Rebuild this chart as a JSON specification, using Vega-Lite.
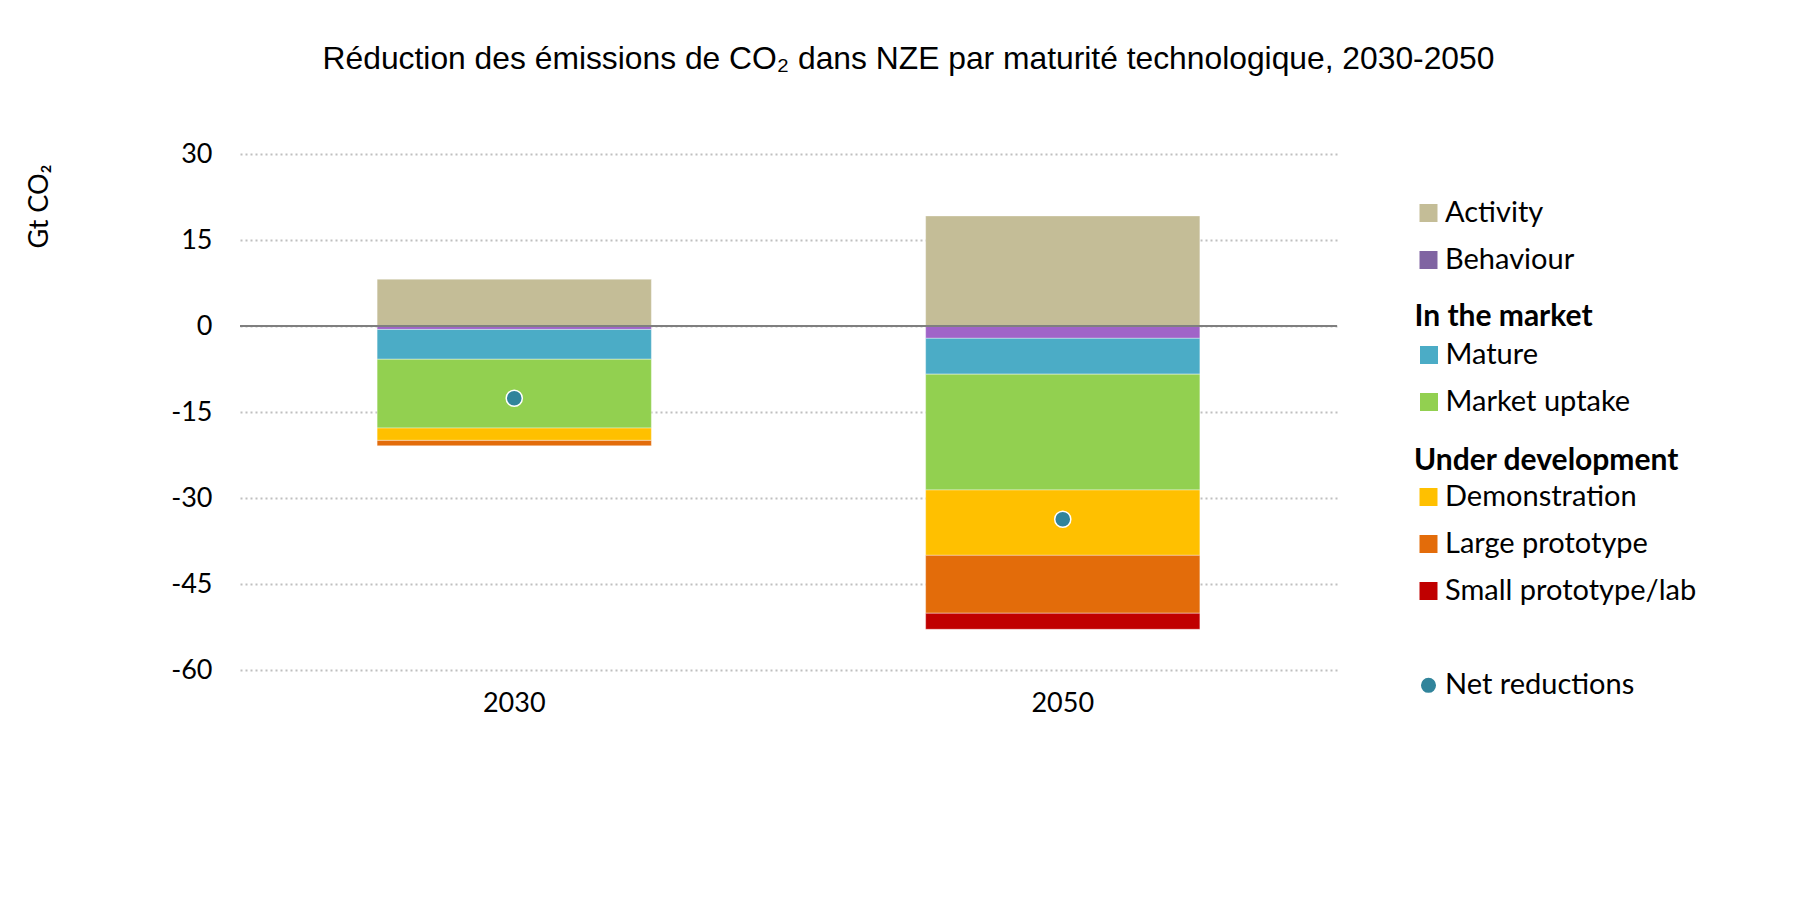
{
  "$schema": "https://vega.github.io/schema/vega-lite/v6.json",
  "width": 1097,
  "height": 516,
  "autosize": {"type": "none"},
  "padding": {"left": 240, "top": 154, "right": 479, "bottom": 230},
  "background": "white",
  "title": {
    "text": "Réduction des émissions de CO₂ dans NZE par maturité technologique, 2030-2050",
    "font": "Liberation Sans",
    "fontSize": 31.8,
    "fontWeight": "normal",
    "color": "#000000",
    "anchor": "middle",
    "dx": 120,
    "offset": 64
  },
  "datasets": {
    "bars": [
      {"year": "2030", "category": "Activity", "group": "Other", "order": 1, "value": 8.2},
      {"year": "2030", "category": "Behaviour", "group": "Other", "order": 2, "value": -0.6},
      {"year": "2030", "category": "Mature", "group": "In the market", "order": 3, "value": -5.2},
      {"year": "2030", "category": "Market uptake", "group": "In the market", "order": 4, "value": -12.0},
      {"year": "2030", "category": "Demonstration", "group": "Under development", "order": 5, "value": -2.15},
      {"year": "2030", "category": "Large prototype", "group": "Under development", "order": 6, "value": -0.95},
      {"year": "2030", "category": "Small prototype/lab", "group": "Under development", "order": 7, "value": 0},
      {"year": "2050", "category": "Activity", "group": "Other", "order": 1, "value": 19.2},
      {"year": "2050", "category": "Behaviour", "group": "Other", "order": 2, "value": -2.15},
      {"year": "2050", "category": "Mature", "group": "In the market", "order": 3, "value": -6.25},
      {"year": "2050", "category": "Market uptake", "group": "In the market", "order": 4, "value": -20.2},
      {"year": "2050", "category": "Demonstration", "group": "Under development", "order": 5, "value": -11.4},
      {"year": "2050", "category": "Large prototype", "group": "Under development", "order": 6, "value": -10.1},
      {"year": "2050", "category": "Small prototype/lab", "group": "Under development", "order": 7, "value": -2.8}
    ],
    "net": [
      {"year": "2030", "series": "Net reductions", "value": -12.6},
      {"year": "2050", "series": "Net reductions", "value": -33.7}
    ],
    "zero": [{"value": 0}]
  },
  "layer": [
    {
      "data": {"name": "bars"},
      "transform": [
        {"stack": "value", "groupby": ["year"], "sort": [{"field": "order", "order": "ascending"}], "as": ["v0", "v1"]},
        {"filter": "datum.group === 'Other'"}
      ],
      "mark": {"type": "bar", "width": {"band": 0.5}, "stroke": "white", "strokeWidth": 0.75, "strokeOpacity": 0.5},
      "encoding": {
        "x": {"field": "year", "type": "nominal", "title": null, "scale": {"paddingInner": 0, "paddingOuter": 0}},
        "y": {"field": "v0", "type": "quantitative", "title": "Gt CO₂", "scale": {"domain": [-60, 30], "nice": false, "zero": false}, "axis": {"values": [-60, -45, -30, -15, 0, 15, 30], "labelExpr": "'' + datum.value"}},
        "y2": {"field": "v1"},
        "fill": {
          "condition": {"test": "datum.category === 'Behaviour'", "value": "#A064C8"},
          "field": "category", "type": "nominal",
          "scale": {"domain": ["Activity", "Behaviour"], "range": ["#C4BD97", "#8064A2"]},
          "legend": {"title": null, "legendX": 1174, "legendY": 44.5}
        }
      }
    },
    {
      "data": {"name": "bars"},
      "transform": [
        {"stack": "value", "groupby": ["year"], "sort": [{"field": "order", "order": "ascending"}], "as": ["v0", "v1"]},
        {"filter": "datum.group === 'In the market'"}
      ],
      "mark": {"type": "bar", "width": {"band": 0.5}, "stroke": "white", "strokeWidth": 0.75, "strokeOpacity": 0.5},
      "encoding": {
        "x": {"field": "year", "type": "nominal", "title": null},
        "y": {"field": "v0", "type": "quantitative", "title": "Gt CO₂"},
        "y2": {"field": "v1"},
        "color": {
          "field": "category", "type": "nominal",
          "scale": {"domain": ["Mature", "Market uptake"], "range": ["#4BACC6", "#92D050"]},
          "legend": {"title": "In the market", "legendX": 1174.5, "legendY": 147.5}
        }
      }
    },
    {
      "data": {"name": "bars"},
      "transform": [
        {"stack": "value", "groupby": ["year"], "sort": [{"field": "order", "order": "ascending"}], "as": ["v0", "v1"]},
        {"filter": "datum.group === 'Under development'"}
      ],
      "mark": {"type": "bar", "width": {"band": 0.5}, "stroke": "white", "strokeWidth": 0.75, "strokeOpacity": 0.5},
      "encoding": {
        "x": {"field": "year", "type": "nominal", "title": null},
        "y": {"field": "v0", "type": "quantitative", "title": "Gt CO₂"},
        "y2": {"field": "v1"},
        "color": {
          "field": "category", "type": "nominal",
          "scale": {"domain": ["Demonstration", "Large prototype", "Small prototype/lab"], "range": ["#FFC000", "#E36C0A", "#C00000"]},
          "legend": {"title": "Under development", "legendX": 1174, "legendY": 291.8, "titlePadding": 6.7}
        }
      }
    },
    {
      "data": {"name": "zero"},
      "mark": {"type": "rule", "color": "#7F7F7F", "strokeWidth": 2},
      "encoding": {"y": {"field": "value", "type": "quantitative", "title": "Gt CO₂"}}
    },
    {
      "data": {"name": "net"},
      "mark": {"type": "point", "filled": true, "size": 260, "stroke": "white", "strokeWidth": 1.5, "opacity": 1, "shape": "circle"},
      "encoding": {
        "x": {"field": "year", "type": "nominal", "title": null},
        "y": {"field": "value", "type": "quantitative", "title": "Gt CO₂"},
        "color": {
          "field": "series", "type": "nominal",
          "scale": {"domain": ["Net reductions"], "range": ["#31849B"]},
          "legend": {"title": null, "legendX": 1174, "legendY": 516.8, "symbolType": "circle", "symbolSize": 227, "symbolStrokeWidth": 0}
        }
      }
    }
  ],
  "resolve": {"scale": {"color": "independent", "fill": "independent"}},
  "config": {
    "view": {"stroke": null},
    "font": "Lato",
    "axis": {
      "labelFont": "Lato", "labelFontSize": 27, "labelColor": "#000000",
      "ticks": false, "domain": false,
      "titleFont": "Lato", "titleFontSize": 27, "titleFontWeight": "normal", "titleColor": "#000000"
    },
    "axisY": {
      "gridColor": "#BFBFBF", "gridDash": [2, 3], "gridWidth": 2,
      "labelPadding": 28,
      "titleAngle": -90, "titleX": -201, "titleY": 52, "titleAlign": "center", "titleBaseline": "middle"
    },
    "axisX": {"grid": false, "labelAngle": 0, "labelPadding": 20},
    "legend": {
      "orient": "none",
      "labelFont": "Lato", "labelFontSize": 29, "labelColor": "#000000", "labelLimit": 0,
      "titleFont": "Lato", "titleFontSize": 30, "titleFontWeight": "bold", "titleColor": "#000000", "titleLimit": 0,
      "symbolType": "square", "symbolSize": 324, "symbolStrokeWidth": 0,
      "labelOffset": 2, "rowPadding": 17, "padding": 0, "titlePadding": 9
    }
  }
}
